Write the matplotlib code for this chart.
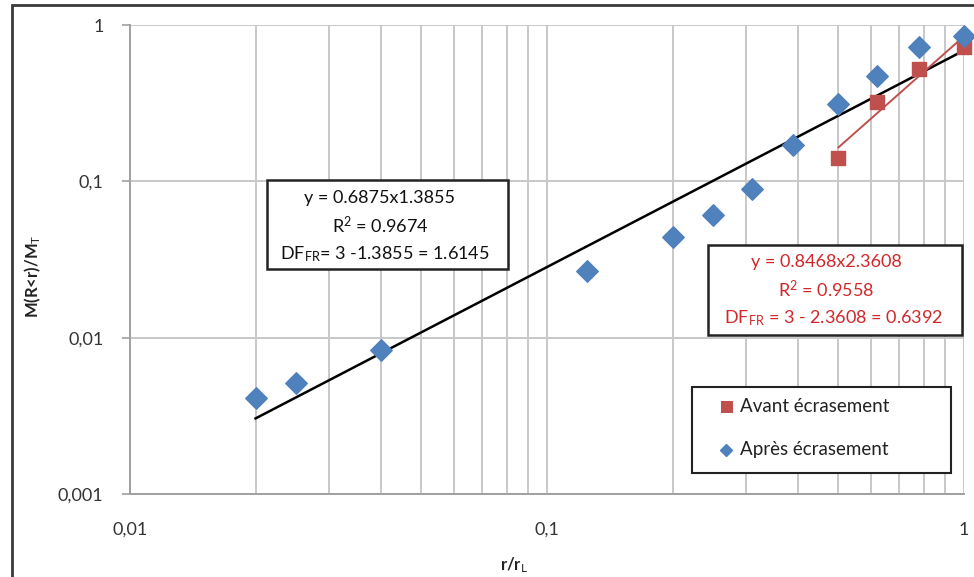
import numpy as np
import matplotlib.pyplot as plt
from matplotlib.patches import Rectangle
from matplotlib.ticker import FixedLocator, LogLocator, NullFormatter

plt.rcParams['font.family'] = ['Lato', 'DejaVu Sans']
plt.rcParams['mathtext.fontset'] = 'custom'
plt.rcParams['mathtext.rm'] = 'Lato'
plt.rcParams['mathtext.it'] = 'Lato'

# Après écrasement (diamants bleus)
r_apres = [0.02, 0.025, 0.04, 0.125, 0.2, 0.25, 0.31, 0.39, 0.5, 0.62, 0.78, 1.0]
m_apres = [0.0041, 0.0051, 0.0083, 0.0267, 0.044, 0.061, 0.089, 0.171, 0.312, 0.472, 0.723, 0.85]

# Avant écrasement (carrés rouges)
r_avant = [0.5, 0.62, 0.78, 1.0]
m_avant = [0.141, 0.322, 0.523, 0.723]

# courbes de tendance (puissance)
fit_apres = (0.6875, 1.3855)
fit_avant = (0.8468, 2.3608)

xticks = [0.01, 0.1, 1]
xtick_labels = ['0,01', '0,1', '1']
yticks = [0.001, 0.01, 0.1, 1]
ytick_labels = ['0,001', '0,01', '0,1', '1']

blue = '#4f81bd'
red = '#c0504d'
grid_col = '#c8c8c8'

fig = plt.figure(figsize=(9.74, 5.77), dpi=100)
ax = fig.add_axes([130 / 974, 1 - 494 / 577, 834 / 974, 469 / 577])

ax.set_xscale('log')
ax.set_yscale('log')
ax.set_xlim(0.01, 1)
ax.set_ylim(0.001, 1)

# trend lines
xa = np.logspace(np.log10(r_apres[0]), np.log10(r_apres[-1]), 50)
ax.plot(xa, fit_apres[0] * xa ** fit_apres[1], color='black', lw=1.8, zorder=3)
xr = np.logspace(np.log10(r_avant[0]), np.log10(r_avant[-1]), 50)
ax.plot(xr, fit_avant[0] * xr ** fit_avant[1], color=red, lw=1.4, zorder=3)

ax.scatter(r_avant, m_avant, marker='s', s=115, color=red, zorder=4, clip_on=False)
ax.scatter(r_apres, m_apres, marker='D', s=120, color=blue, zorder=5, clip_on=False)

# grid: vertical major + minor, horizontal major only
ax.xaxis.set_minor_locator(LogLocator(base=10, subs=np.arange(2, 10)))
ax.xaxis.set_minor_formatter(NullFormatter())
ax.yaxis.set_minor_locator(FixedLocator([]))
ax.grid(True, which='major', axis='both', color=grid_col, lw=1.4)
ax.grid(True, which='minor', axis='x', color=grid_col, lw=1.4)
ax.set_axisbelow(True)

ax.set_xticks(xticks)
ax.set_xticklabels(xtick_labels)
ax.set_yticks(yticks)
ax.set_yticklabels(ytick_labels)
ax.tick_params(axis='both', which='major', labelsize=13, colors='#a0a0a0',
               labelcolor='#333333', width=1.2)
ax.tick_params(axis='y', which='major', length=6, pad=13)
ax.tick_params(axis='x', which='minor', length=0)
ax.tick_params(axis='x', which='major', length=0, pad=20)

for side in ['top', 'right']:
    ax.spines[side].set_visible(False)
for side in ['left', 'bottom']:
    ax.spines[side].set_color('#a0a0a0')
    ax.spines[side].set_linewidth(1.4)

fig.text(33 / 974, 1 - 276 / 577, r'M(R<r)/M$_{T}$', rotation=90, ha='center',
         va='center', fontsize=12, color='#222222', fontweight='bold')
fig.text(514 / 974, 1 - 565 / 577, r'r/r$_{L}$', ha='center', va='center',
         fontsize=12, color='#222222', fontweight='bold')


def fig_box(x0, y0, x1, y1, lw=1.8):
    fig.patches.append(Rectangle((x0 / 974, 1 - y1 / 577), (x1 - x0) / 974,
                                 (y1 - y0) / 577, transform=fig.transFigure,
                                 facecolor='white', edgecolor='#222222', lw=lw,
                                 zorder=10))


# equation box (après)
fig_box(267, 180, 508, 269)
lines1 = ['y = 0.6875x1.3855', r'R$^{2}$ = 0.9674', r'DF$_{FR}$= 3 -1.3855 = 1.6145']
for txt, yy, xx in zip(lines1, [198, 225, 254], [379, 380, 385]):
    fig.text(xx / 974, 1 - yy / 577, txt, ha='center', va='center', fontsize=13,
             color='#111111', zorder=11)

# equation box (avant)
fig_box(708, 245, 962, 335)
lines2 = ['y = 0.8468x2.3608', r'R$^{2}$ = 0.9558', r'DF$_{FR}$ = 3 - 2.3608 = 0.6392']
for txt, yy, xx in zip(lines2, [262, 290, 318], [826, 826, 833]):
    fig.text(xx / 974, 1 - yy / 577, txt, ha='center', va='center', fontsize=13,
             color='#d0282a', zorder=11)

# legend
fig_box(692, 387, 951, 473, lw=1.5)
fig.patches.append(Rectangle((721 / 974, 1 - 413 / 577), 12 / 974, 12 / 577,
                             transform=fig.transFigure, facecolor=red,
                             edgecolor='none', zorder=11))
fig.lines.append(plt.Line2D([726 / 974], [1 - 450 / 577], marker='D', markersize=6,
                            color=blue, transform=fig.transFigure, zorder=11))
fig.text(740 / 974, 1 - 407 / 577, 'Avant écrasement', ha='left', va='center',
         fontsize=13.5, color='#222222', zorder=11)
fig.text(740 / 974, 1 - 450 / 577, 'Après écrasement', ha='left', va='center',
         fontsize=13.5, color='#222222', zorder=11)

# outer frame
fig.patches.append(Rectangle((12 / 974, -0.02), 1.05, 1 - 5 / 577 + 0.02,
                             transform=fig.transFigure, facecolor='none',
                             edgecolor='#3a3a3a', lw=2, zorder=20))

fig.savefig('out.png', dpi=100)
